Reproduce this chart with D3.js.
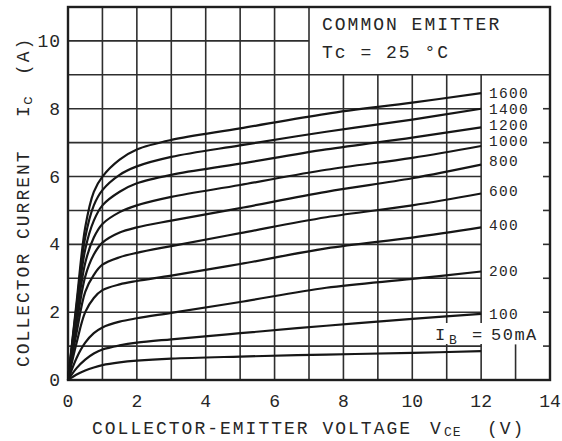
<!DOCTYPE html>
<html>
<head>
<meta charset="utf-8">
<script src="https://cdn.jsdelivr.net/npm/d3@7"></script>
<style>
  body { margin: 0; background: #fff; }
  text { font-family: "Liberation Mono", "Courier New", monospace; fill: #262626; }
</style>
</head>
<body>
<svg id="chart" width="562" height="441"></svg>
<script>
// collector-emitter voltage sample points (V)
const vce = [0, 0.25, 0.5, 0.75, 1, 1.5, 2, 3, 5, 7.5, 10, 12];

// collector current (A) for each base current
const ic1600 = [0, 2.3, 4.5, 5.55, 6.0, 6.5, 6.8, 7.08, 7.42, 7.85, 8.18, 8.46];
const ic1400 = [0, 2.2, 4.2, 5.15, 5.6, 6.05, 6.3, 6.58, 6.92, 7.32, 7.68, 8.0];
const ic1200 = [0, 2.05, 3.85, 4.7, 5.15, 5.55, 5.8, 6.05, 6.38, 6.8, 7.15, 7.45];
const ic1000 = [0, 1.85, 3.45, 4.2, 4.6, 4.95, 5.15, 5.4, 5.75, 6.2, 6.55, 6.9];
const ic800  = [0, 1.65, 3.05, 3.7, 4.05, 4.35, 4.5, 4.7, 5.07, 5.55, 5.95, 6.35];
const ic600  = [0, 1.4, 2.6, 3.1, 3.4, 3.62, 3.75, 3.95, 4.33, 4.8, 5.15, 5.5];
const ic400  = [0, 1.1, 2.0, 2.42, 2.65, 2.82, 2.92, 3.08, 3.42, 3.88, 4.2, 4.5];
const ic200  = [0, 0.65, 1.1, 1.38, 1.55, 1.72, 1.82, 1.98, 2.3, 2.72, 2.98, 3.2];
const ic100  = [0, 0.35, 0.6, 0.78, 0.9, 1.02, 1.1, 1.2, 1.38, 1.6, 1.8, 1.95];
const ic50   = [0, 0.16, 0.28, 0.37, 0.44, 0.52, 0.57, 0.63, 0.69, 0.75, 0.8, 0.85];

const curves = [ic1600, ic1400, ic1200, ic1000, ic800, ic600, ic400, ic200, ic100, ic50];

// base current labels on the right and the current level they sit at
const ibLabels = ["1600", "1400", "1200", "1000", "800", "600", "400", "200", "100"];
const ibLabelAt = [8.47, 7.99, 7.53, 7.06, 6.45, 5.58, 4.57, 3.2, 1.94];

const xTicks = [0, 2, 4, 6, 8, 10, 12, 14];
const yTicks = [0, 2, 4, 6, 8, 10];

const svg = d3.select('#chart');

const x = d3.scaleLinear().domain([0, 14]).range([68, 550]);
const y = d3.scaleLinear().domain([0, 11]).range([380, 7]);

const grid = svg.append('g').attr('stroke', '#2e2e2e').attr('stroke-width', 1.6);

// vertical grid lines (stop under the legend box past 7 V)
d3.range(1, 13).forEach(v => {
    grid.append('line')
        .attr('x1', x(v)).attr('x2', x(v))
        .attr('y1', y(0)).attr('y2', y(v <= 7 ? 11 : 9));
});
// short mark at 13 V
grid.append('line').attr('x1', x(13)).attr('x2', x(13)).attr('y1', y(0)).attr('y2', y(1.05));

// horizontal grid lines
d3.range(1, 11).forEach(a => {
    const end = a <= 8 ? 12 : (a === 9 ? 14 : 7);
    grid.append('line')
        .attr('x1', x(0)).attr('x2', x(end))
        .attr('y1', y(a)).attr('y2', y(a));
});
// ticks on the right border
d3.range(1, 9).forEach(a => {
    grid.append('line')
        .attr('x1', x(14) - 7).attr('x2', x(14))
        .attr('y1', y(a)).attr('y2', y(a));
});

// frame
svg.append('rect')
    .attr('x', x(0)).attr('y', y(11))
    .attr('width', x(14) - x(0)).attr('height', y(0) - y(11))
    .attr('fill', 'none').attr('stroke', '#1e1e1e').attr('stroke-width', 2.4);

// characteristic curves
const line = d3.line()
    .x((d, i) => x(vce[i]))
    .y(d => y(d))
    .curve(d3.curveCatmullRom.alpha(0.5));

svg.append('g').selectAll('path')
    .data(curves)
    .join('path')
    .attr('d', line)
    .attr('fill', 'none')
    .attr('stroke', '#161616')
    .attr('stroke-width', 2.2);

// axis tick labels
svg.append('g').selectAll('text')
    .data(xTicks)
    .join('text')
    .attr('x', d => x(d))
    .attr('y', 407)
    .attr('text-anchor', 'middle')
    .attr('font-size', 18)
    .text(d => d);

svg.append('g').selectAll('text')
    .data(yTicks)
    .join('text')
    .attr('x', 61)
    .attr('y', d => y(d) + 6)
    .attr('text-anchor', 'end')
    .attr('font-size', 18)
    .attr('letter-spacing', 1)
    .text(d => d);

// base current labels
svg.append('g').selectAll('text')
    .data(ibLabels)
    .join('text')
    .attr('x', 489)
    .attr('y', (d, i) => y(ibLabelAt[i]) + 5)
    .attr('font-size', 14.5)
    .attr('letter-spacing', 1.3)
    .text(d => d);

svg.append('rect')
    .attr('x', 432).attr('y', 323).attr('width', 116).attr('height', 21)
    .attr('fill', '#fff');
const ib50 = svg.append('text').attr('y', 340).attr('font-size', 17);
ib50.append('tspan').attr('x', 435).text('I');
ib50.append('tspan').attr('x', 449).attr('dy', 4).attr('font-size', 13).text('B');
ib50.append('tspan').attr('x', 472).attr('dy', -4).text('=');
ib50.append('tspan').attr('x', 491).attr('letter-spacing', 1.5).text('50mA');

// legend box text
svg.append('text')
    .attr('x', 322).attr('y', 30)
    .attr('font-size', 18).attr('letter-spacing', 2)
    .text('COMMON EMITTER');
svg.append('text')
    .attr('x', 322).attr('y', 58)
    .attr('font-size', 18).attr('letter-spacing', 2)
    .text('Tc = 25 °C');

// x axis title
const xt = svg.append('text').attr('y', 434).attr('font-size', 18).attr('letter-spacing', 2);
xt.append('tspan').attr('x', 92).text('COLLECTOR-EMITTER VOLTAGE');
xt.append('tspan').attr('x', 430).text('V');
xt.append('tspan').attr('x', 444).attr('dy', 2).attr('font-size', 13).attr('letter-spacing', 1).text('CE');
xt.append('tspan').attr('x', 487).attr('dy', -2).text('(V)');

// y axis title, reading upwards
const yt = svg.append('text')
    .attr('transform', 'translate(29,367) rotate(-90)')
    .attr('font-size', 18).attr('letter-spacing', 2);
yt.append('tspan').attr('x', 0).text('COLLECTOR CURRENT');
yt.append('tspan').attr('x', 250).text('I');
yt.append('tspan').attr('x', 262).attr('dy', 3).attr('font-size', 15).text('c');
yt.append('tspan').attr('x', 292).attr('dy', -3).text('(A)');
</script>
</body>
</html>
